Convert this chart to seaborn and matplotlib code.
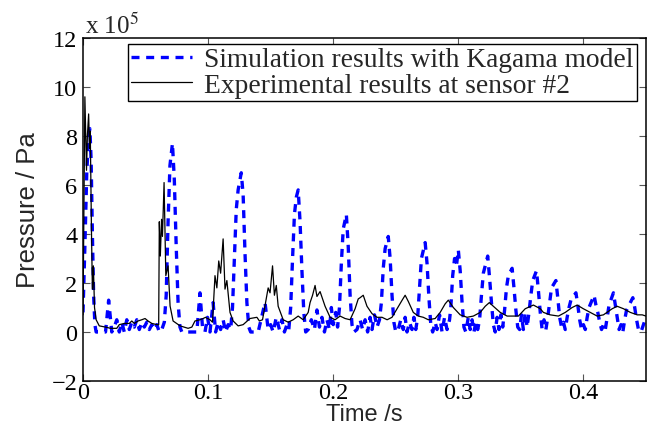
import numpy as np
import pandas as pd
import matplotlib
matplotlib.use("Agg")
import matplotlib.pyplot as plt
import seaborn as sns

# ---- data (pressure in units of 1e5 Pa) ----
sim_t = [0.000, 0.0015, 0.003, 0.0045, 0.0055, 0.0065, 0.0075, 0.0085, 0.0095, 0.0105,
         0.018, 0.0205, 0.023, 0.025, 0.027, 0.029, 0.031, 0.033, 0.035, 0.037, 0.039,
         0.041, 0.043, 0.045, 0.047, 0.049, 0.051, 0.053, 0.055, 0.057, 0.059, 0.061,
         0.063, 0.065, 0.0665, 0.068, 0.0695, 0.0715, 0.073, 0.0745, 0.076, 0.0775, 0.079,
         0.091, 0.0935, 0.0955, 0.0975, 0.0995, 0.1015, 0.104, 0.106, 0.108, 0.110, 0.112,
         0.114, 0.116, 0.118, 0.1195, 0.121, 0.1225, 0.124, 0.1265, 0.128, 0.1295, 0.131,
         0.1325, 0.134, 0.140, 0.1455, 0.148, 0.150, 0.152, 0.1545, 0.157, 0.159, 0.161,
         0.163, 0.1645, 0.166, 0.1675, 0.169, 0.1705, 0.172, 0.1735, 0.175, 0.1765, 0.178,
         0.180, 0.1825, 0.185, 0.187, 0.189, 0.191, 0.193, 0.195, 0.197, 0.1985, 0.200,
         0.202, 0.2035, 0.205, 0.2065, 0.208, 0.2105, 0.212, 0.2135, 0.215, 0.2165, 0.219,
         0.2215, 0.2235, 0.2255, 0.2275, 0.2295, 0.231, 0.233, 0.235, 0.237, 0.2385, 0.240,
         0.2415, 0.244, 0.2455, 0.247, 0.2485, 0.250, 0.252, 0.254, 0.256, 0.2575, 0.259,
         0.261, 0.263, 0.2645, 0.266, 0.2675, 0.269, 0.2705, 0.2735, 0.275, 0.2765, 0.278,
         0.2795, 0.2815, 0.283, 0.285, 0.287, 0.289, 0.291, 0.293, 0.294, 0.2955, 0.297,
         0.2985, 0.300, 0.3015, 0.303, 0.3045, 0.306, 0.308, 0.3095, 0.311, 0.3125, 0.314,
         0.3155, 0.317, 0.3185, 0.320, 0.3215, 0.3235, 0.325, 0.3265, 0.328, 0.3295, 0.331,
         0.3325, 0.334, 0.3355, 0.337, 0.3385, 0.340, 0.343, 0.3445, 0.346, 0.3475, 0.349,
         0.3505, 0.352, 0.3535, 0.355, 0.3565, 0.358, 0.3595, 0.3625, 0.364, 0.3655, 0.367,
         0.3685, 0.370, 0.3715, 0.373, 0.3745, 0.378, 0.3795, 0.381, 0.3825, 0.384, 0.3855,
         0.387, 0.3885, 0.390, 0.394, 0.3955, 0.397, 0.3985, 0.400, 0.4015, 0.403, 0.4045,
         0.4085, 0.410, 0.4115, 0.413, 0.4145, 0.416, 0.4175, 0.419, 0.4205, 0.424, 0.4255,
         0.427, 0.4285, 0.430, 0.4315, 0.433, 0.4345, 0.4395, 0.441, 0.4425, 0.444, 0.446,
         0.448, 0.450]
sim_p = [0.8, 3.5, 6.5, 8.0, 8.3, 7.0, 4.0, 1.5, 0.3, 0.0,
         0.0, 1.3, 0.0, 0.2, 0.5, 0.0, 0.4, 0.0, 0.5, 0.1, 0.4,
         0.2, 0.5, 0.1, 0.4, 0.2, 0.4, 0.1, 0.3, 0.1, 0.3, 0.0,
         0.1, 0.4, 1.5, 4.5, 6.8, 7.7, 6.2, 3.5, 1.2, 0.2, 0.0,
         0.0, 1.6, 0.2, 0.0, 0.6, 0.0, 1.2, 0.0, 0.4, 0.1, 0.5,
         0.0, 0.3, 0.1, 1.0, 3.0, 5.0, 5.8, 6.5, 5.6, 3.2, 1.2,
         0.2, 0.0, 0.0, 1.2, 0.1, 0.3, 0.0, 0.6, 0.1, 0.5, 0.0,
         0.3, 0.1, 1.0, 3.0, 4.8, 5.5, 5.8, 4.5, 2.5, 0.8, 0.0,
         0.1, 0.5, 0.1, 0.9, 0.2, 0.6, 0.0, 0.5, 0.1, 1.0, 0.3,
         0.8, 0.2, 1.0, 2.8, 4.2, 4.8, 3.5, 1.5, 0.3, 0.0, 0.1,
         0.5, 0.1, 0.5, 0.0, 0.6, 0.1, 0.7, 0.2, 0.5, 1.2, 2.6,
         3.4, 3.9, 3.0, 1.5, 0.4, 0.0, 0.1, 0.5, 0.1, 0.6, 0.0,
         0.4, 0.1, 0.6, 0.1, 0.6, 1.8, 3.0, 3.65, 2.8, 1.4, 0.3,
         0.0, 0.4, 0.1, 0.7, 0.0, 0.6, 0.1, 0.5, 1.0, 2.3, 3.0,
         2.7, 3.35, 2.5, 1.2, 0.2, 0.0, 0.6, 0.1, 0.5, 0.0, 0.4,
         0.1, 0.5, 1.5, 2.4, 2.7, 3.1, 2.2, 1.2, 0.3, 0.0, 0.6,
         0.1, 0.7, 0.2, 0.9, 1.8, 2.3, 2.6, 1.8, 0.9, 0.2, 0.1,
         0.7, 0.1, 0.8, 0.2, 0.8, 1.5, 2.1, 2.5, 1.7, 0.8, 0.1,
         0.5, 0.1, 0.6, 1.2, 1.8, 2.1, 1.4, 0.6, 0.2, 0.4, 0.1,
         0.6, 1.0, 1.3, 1.6, 1.1, 0.5, 0.1, 0.3, 0.1, 0.6, 1.0,
         1.5, 1.1, 0.8, 0.4, 0.1, 0.3, 0.1, 0.6, 1.1, 1.6, 1.1,
         0.6, 0.1, 0.3, 0.0, 0.5, 0.9, 1.4, 1.0, 0.5, 0.1, 0.0,
         0.3, 0.6]

exp_t = [0.000, 0.0015, 0.0028, 0.0035, 0.0045, 0.0052, 0.0058, 0.0068, 0.0075, 0.0083,
         0.0092, 0.0105, 0.013, 0.018, 0.022, 0.027, 0.029, 0.033, 0.037, 0.039, 0.041,
         0.044, 0.047, 0.0496, 0.052, 0.055, 0.059, 0.0605, 0.061, 0.0618, 0.0628, 0.0635,
         0.0648, 0.0662, 0.068, 0.0696, 0.072, 0.0776, 0.084, 0.087, 0.0895, 0.0935, 0.096,
         0.098, 0.1015, 0.1035, 0.1055, 0.107, 0.1085, 0.110, 0.112, 0.1135, 0.115, 0.1175,
         0.120, 0.124, 0.128, 0.1335, 0.139, 0.141, 0.1435, 0.1465, 0.148, 0.1495, 0.1515,
         0.153, 0.1545, 0.156, 0.160, 0.164, 0.168, 0.172, 0.176, 0.180, 0.1815, 0.1835,
         0.1855, 0.187, 0.1895, 0.1935, 0.1975, 0.2015, 0.2055, 0.2095, 0.2135, 0.2175,
         0.220, 0.2215, 0.224, 0.227, 0.231, 0.235, 0.239, 0.2431, 0.247, 0.251, 0.2551,
         0.2575, 0.260, 0.264, 0.268, 0.272, 0.276, 0.2815, 0.2855, 0.2895, 0.292, 0.296,
         0.3015, 0.307, 0.312, 0.3175, 0.3215, 0.3248, 0.328, 0.3335, 0.339, 0.344, 0.348,
         0.3535, 0.360, 0.3655, 0.368, 0.3735, 0.380, 0.3855, 0.391, 0.395, 0.3999, 0.4055,
         0.411, 0.416, 0.423, 0.427, 0.432, 0.4375, 0.443, 0.447, 0.450]
exp_p = [0.7, 9.6, 6.6, 8.0, 8.9, 7.5, 8.2, 4.0, 1.75, 2.7,
         1.0, 0.5, 0.25, 0.2, 0.15, 0.15, 0.3, 0.35, 0.35, 0.45, 0.35,
         0.45, 0.5, 0.55, 0.45, 0.35, 0.3, 0.3, 4.5, 3.1, 4.6, 3.9,
         6.1, 2.3, 2.7, 1.06, 0.45, 0.25, 0.15, 0.2, 0.45, 0.5, 0.55,
         0.6, 0.5, 0.4, 2.3, 1.8, 2.9, 2.4, 3.8, 1.75, 2.1, 0.8,
         0.45, 0.25, 0.3, 0.55, 0.6, 0.45, 0.5, 1.35, 1.8, 1.6, 2.7,
         1.5, 1.9, 1.05, 0.5, 0.4, 0.5, 0.65, 0.5, 0.8, 1.2, 1.5,
         1.9, 1.45, 1.65, 1.05, 0.6, 0.5, 0.65, 0.55, 0.5, 0.95,
         1.35, 1.4, 1.5, 1.05, 0.75, 0.6, 0.6, 0.5, 0.6, 0.95, 1.3,
         1.5, 1.25, 0.8, 0.65, 0.6, 0.5, 0.55, 0.8, 1.15, 1.3, 1.0,
         0.7, 0.6, 0.65, 0.8, 1.05, 1.2, 1.05, 0.8, 0.65, 0.65, 0.65,
         0.95, 1.1, 0.95, 0.8, 0.7, 0.65, 0.8, 1.0, 1.1, 0.95, 0.8,
         0.65, 0.7, 0.95, 1.05, 0.95, 0.8, 0.7, 0.7, 0.65]

sim_label = "Simulation results with Kagama model"
exp_label = "Experimental results at sensor #2"
x_ticks = [0, 0.1, 0.2, 0.3, 0.4]
x_ticklabels = ["0", "0.1", "0.2", "0.3", "0.4"]
y_ticks = [-2, 0, 2, 4, 6, 8, 10, 12]

sim_df = pd.DataFrame({"t": sim_t, "p": sim_p})
exp_df = pd.DataFrame({"t": exp_t, "p": exp_p})

sns.set_style("ticks")
plt.rcParams["mathtext.fontset"] = "stix"
serif = ["Liberation Serif", "DejaVu Serif"]
sans = ["Liberation Sans", "DejaVu Sans"]

fig = plt.figure(figsize=(6.5, 4.31), dpi=100)
ax = fig.add_axes([0.1277, 0.1137, 0.8661, 0.7958])

sns.lineplot(data=sim_df, x="t", y="p", ax=ax, sort=False, estimator=None,
             color="#0000ff", linewidth=2.4, linestyle=(0, (2.4, 2.0)),
             label=sim_label)
sns.lineplot(data=exp_df, x="t", y="p", ax=ax, sort=False, estimator=None,
             color="black", linewidth=0.9, label=exp_label)

ax.set_xlim(0, 0.45)
ax.set_ylim(-2, 12)
ax.set_xticks(x_ticks)
ax.set_xticklabels(x_ticklabels)
ax.set_yticks(y_ticks)
ax.set_yticklabels(["\u22122" if v < 0 else str(v) for v in y_ticks])
for lab in ax.get_xticklabels() + ax.get_yticklabels():
    lab.set_family(serif)
    lab.set_fontsize(17.5)
ax.tick_params(direction="in", top=True, right=True, length=5, width=0.8,
               colors="#555555", labelcolor="black")
ax.tick_params(axis="x", pad=1)
ax.tick_params(axis="y", pad=4)
for s in ax.spines.values():
    s.set_linewidth(1.1)
    s.set_color("black")

ax.set_xlabel("Time /s", family=sans, fontsize=17, labelpad=0)
ax.set_ylabel("Pressure / Pa", family=sans, fontsize=18.5, labelpad=8)

ax.text(0.003, 1.0, r"x 10$^5$", transform=ax.transAxes, family=serif,
        fontsize=18, ha="left", va="bottom")

leg = ax.legend(loc="upper right", bbox_to_anchor=(0.984, 0.983),
                borderaxespad=0, prop={"family": serif, "size": 19.8},
                frameon=True, fancybox=False, handlelength=2.2,
                handletextpad=0.45, borderpad=0.12, labelspacing=0.0)
leg.get_frame().set_edgecolor("black")
leg.get_frame().set_linewidth(1.0)
leg.get_frame().set_alpha(1)

fig.savefig("out.png", dpi=100)
